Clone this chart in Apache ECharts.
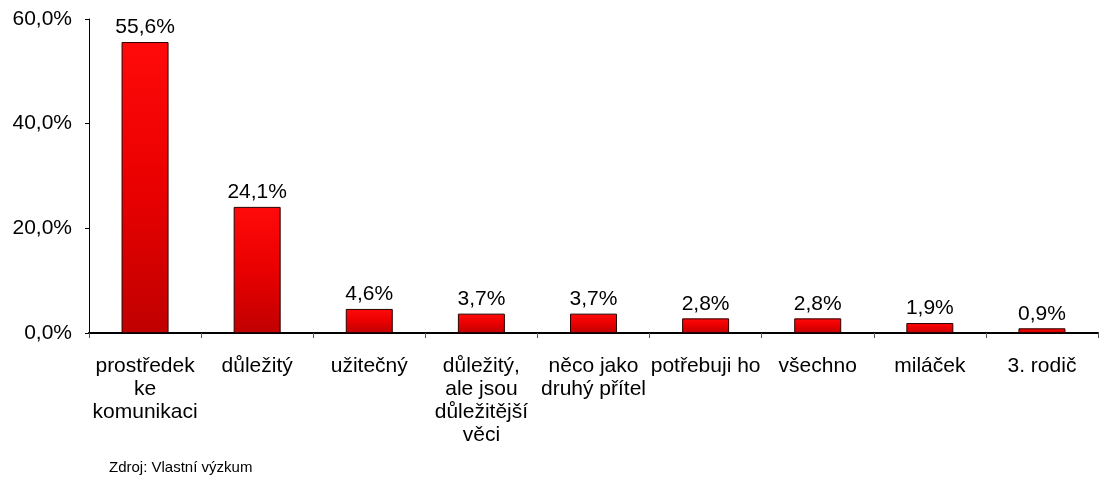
<!DOCTYPE html>
<html>
<head>
<meta charset="utf-8">
<script src="https://cdn.jsdelivr.net/npm/echarts@6/dist/echarts.min.js"></script>
<style>
  html, body { margin: 0; padding: 0; background: #fff; }
  #chart { width: 1099px; height: 479px; }
</style>
</head>
<body>
<div id="chart"></div>
<script>
// kategorie (osa x)
const categories = [
  'prostředek\nke\nkomunikaci',
  'důležitý',
  'užitečný',
  'důležitý,\nale jsou\ndůležitější\nvěci',
  'něco jako\ndruhý přítel',
  'potřebuji ho',
  'všechno',
  'miláček',
  '3. rodič'
]
// hodnoty v procentech
const values = [55.6, 24.1, 4.6, 3.7, 3.7, 2.8, 2.8, 1.9, 0.9]
// osa y
const yMin = 0
const yMax = 60
const yStep = 20
const sourceNote = 'Zdroj: Vlastní výzkum'

const font = '"Liberation Sans", Arial, sans-serif'
const fmt = v => v.toFixed(1).replace('.', ',') + '%'

const chart = echarts.init(document.getElementById('chart'), null, { renderer: 'canvas' })

chart.setOption({
  animation: false,
  textStyle: { fontFamily: font },
  grid: { left: 89, right: 1, top: 19, bottom: 146 },
  graphic: [{
    type: 'text',
    left: 109,
    top: 460,
    style: { text: sourceNote, font: '15px ' + font, fill: '#000' }
  }],
  xAxis: {
    type: 'category',
    data: categories,
    axisLine: { lineStyle: { color: '#000', width: 2 } },
    axisTick: { show: true, length: 5, lineStyle: { color: '#555' } },
    axisLabel: {
      interval: 0,
      margin: 22,
      color: '#000',
      fontSize: 21,
      lineHeight: 23,
      fontFamily: font
    }
  },
  yAxis: {
    type: 'value',
    min: yMin,
    max: yMax,
    interval: yStep,
    splitLine: { show: false },
    axisLine: { show: true, lineStyle: { color: '#000', width: 1 } },
    axisTick: { show: true, length: 4, lineStyle: { color: '#000' } },
    axisLabel: {
      formatter: fmt,
      color: '#000',
      fontSize: 21,
      margin: 17,
      fontFamily: font
    }
  },
  series: [{
    type: 'bar',
    data: values,
    barWidth: 47,
    itemStyle: {
      color: new echarts.graphic.LinearGradient(0, 0, 0, 1, [
        { offset: 0, color: '#ff0a0a' },
        { offset: 0.5, color: '#ea0000' },
        { offset: 1, color: '#c00000' }
      ]),
      borderColor: '#2a0000',
      borderWidth: 1
    },
    label: {
      show: true,
      position: 'top',
      distance: 4,
      formatter: p => fmt(p.value),
      color: '#000',
      fontSize: 21,
      fontFamily: font
    }
  }]
})
</script>
</body>
</html>
